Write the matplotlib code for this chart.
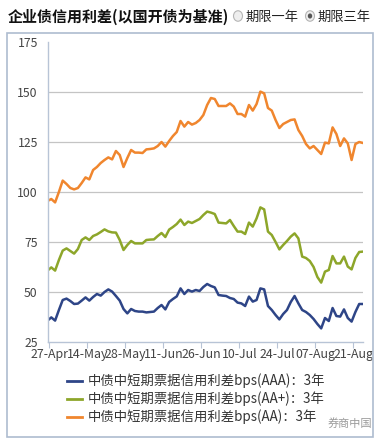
import matplotlib
matplotlib.use("Agg")
import matplotlib.pyplot as plt
from matplotlib.patches import Rectangle, Circle

plt.rcParams['font.family'] = ['Noto Sans CJK SC', 'DejaVu Sans']

tick_labels = ["27-Apr", "14-May", "28-May", "11-Jun", "26-Jun",
               "10-Jul", "24-Jul", "07-Aug", "21-Aug"]

aaa = [35.7, 37.3, 35.7, 41, 46, 46.7, 45.5, 44, 44.2, 45.7,
       47.3, 45.7, 47.5, 49, 48.2, 50, 51.3, 50.2, 48, 45.7,
       41.5, 39.3, 41.5, 40.5, 40.2, 40.2, 39.8, 40, 40.2, 42,
       43.5, 41.3, 45, 46.5, 47.8, 51.8, 49, 51, 50.2, 51,
       50.5, 52.5, 54, 53, 52.3, 48.5, 48.2, 48, 47, 46.5,
       44.7, 44.3, 43, 47.7, 45.2, 46, 51.8, 51.3, 43, 41,
       38.5, 36.3, 39, 41, 45, 48, 44.3, 41, 40, 38.5,
       36.5, 34, 31.8, 37, 35.5, 42, 38, 37.7, 41.3, 37,
       35.2, 40, 44, 44]

aa_plus = [60.7, 62.3, 60.7, 66, 70.7, 71.8, 70.5, 69.2, 71.5, 76,
           77.3, 76, 78, 78.8, 80, 81.3, 80.3, 79.8, 79.7, 76,
           71, 73.5, 75.5, 74.3, 74.3, 74.3, 76, 76.2, 76.3, 78,
           79.5, 77.5, 81.2, 82.5, 84, 86.2, 83.5, 85.2, 84.5, 85.5,
           86.5, 88.5, 90.2, 89.7, 89, 84.7, 84.5, 84.3, 86, 83,
           80.2, 80.2, 79, 84.7, 82.7, 86.8, 92.3, 91.3, 80.2, 78.5,
           75, 71.3, 73.5, 75.5, 77.7, 79.3, 76.8, 67.7, 67, 65.5,
           62.5, 57.5, 54.7, 60.2, 61, 68, 64.3, 64.3, 67.7, 62.7,
           61.3, 67, 70, 70.2]

aa = [95.5, 96.5, 94.8, 100, 105.7, 104, 102, 101.3, 102, 104.5,
      107.3, 106.3, 111, 112.5, 114.5, 116, 117.3, 116.3, 120.5, 118.5,
      112.5, 117, 121, 119.7, 119.7, 119.5, 121.3, 121.5, 121.8, 123,
      125, 122.7, 125.5, 128, 130, 135.5, 132.7, 135, 133.7, 134.5,
      136, 138.5, 143.5, 147, 146.5, 143, 143, 143, 144.3, 142.7,
      139, 139, 137.7, 143.5, 140.7, 144, 150.2, 149.3, 142, 140.7,
      136, 132, 134, 135, 136, 136.3, 131, 128, 124, 121.8,
      123, 121, 119, 124.7, 124.3, 132.3, 129, 123, 126.8, 124.3,
      116, 124, 125, 124.5]

series_names = ["中债中短期票据信用利差bps(AAA)：3年",
                "中债中短期票据信用利差bps(AA+)：3年",
                "中债中短期票据信用利差bps(AA)：3年"]
colors = ["#2e4587", "#8da62a", "#f0862e"]

W, H = 378, 441
fig = plt.figure(figsize=(W / 100, H / 100), dpi=100)

def fx(px):
    return px / W

def fy(py):
    return 1 - py / H

# outer frame
fig.patches.append(Rectangle((fx(7), fy(437)), fx(373) - fx(7), fy(33) - fy(437),
                             transform=fig.transFigure, fill=False,
                             edgecolor="#aebcd0", linewidth=1.2))

# title and radio buttons
fig.text(fx(8), fy(17), "企业债信用利差(以国开债为基准)", fontsize=10.8, fontweight="bold",
         va="center", ha="left", color="#111111")
fig.patches.append(Circle((fx(238), fy(16)), 4.5 / W, transform=fig.transFigure,
                          facecolor="#eeeeee", edgecolor="#b5b5b5", linewidth=0.8))
fig.text(fx(245), fy(17), "期限一年", fontsize=9.5, va="center", ha="left", color="#222222")
fig.patches.append(Circle((fx(310), fy(16)), 4.5 / W, transform=fig.transFigure,
                          facecolor="#eeeeee", edgecolor="#b5b5b5", linewidth=0.8))
fig.patches.append(Circle((fx(310), fy(16)), 2.2 / W, transform=fig.transFigure,
                          facecolor="#555555", edgecolor="none"))
fig.text(fx(318), fy(17), "期限三年", fontsize=9.5, va="center", ha="left", color="#222222")

ax = fig.add_axes([fx(47.5), fy(342), fx(363) - fx(47.5), fy(42) - fy(342)])
x = list(range(len(aa)))
for vals, c in zip([aaa, aa_plus, aa], colors):
    ax.plot(x, vals, color=c, linewidth=1.8, solid_joinstyle="round")

ax.set_xlim(0, len(aa) - 1)
ax.set_ylim(25, 175)
ax.set_yticks([25, 50, 75, 100, 125, 150, 175])
for yv in [50, 75, 100, 125, 150]:
    ax.axhline(yv, color="#c4c4c4", linewidth=0.9, zorder=0)
ax.set_xticks([0.5 + 10 * i for i in range(len(tick_labels))])
ax.set_xticklabels(tick_labels)
ax.tick_params(axis="x", length=4, width=0.8, color="#b8c4d6", pad=0.5,
               labelsize=8.9, labelcolor="#444444")
ax.tick_params(axis="y", length=0, pad=7, labelsize=8.8, labelcolor="#444444")
for s in ["top", "right"]:
    ax.spines[s].set_visible(False)
ax.spines["left"].set_color("#b8c4d6")
ax.spines["bottom"].set_color("#b8c4d6")
ax.spines["left"].set_linewidth(1.0)
ax.spines["bottom"].set_linewidth(1.0)

# legend
for i, (name, c) in enumerate(zip(series_names, colors)):
    yy = 381 + 18 * i
    fig.add_artist(plt.Line2D([fx(67), fx(82)], [fy(yy), fy(yy)], color=c,
                              linewidth=2, transform=fig.transFigure))
    fig.text(fx(88), fy(yy), name, fontsize=9.6, va="center", ha="left", color="#333333")

# watermark
fig.text(fx(328), fy(423), "券商中国", fontsize=8, va="center", ha="left", color="#9a9a9a")

fig.savefig("out.png", dpi=100)
